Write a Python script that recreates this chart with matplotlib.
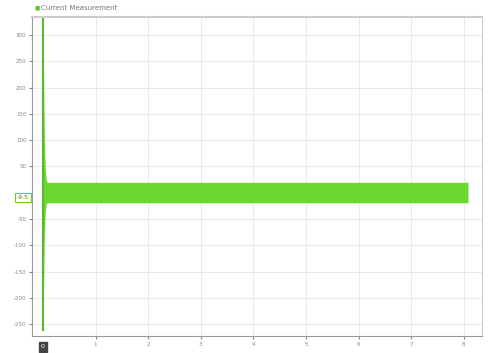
import numpy as np
import matplotlib.pyplot as plt

plt.rcParams['axes.unicode_minus'] = False

t_env = [0.0, 0.005, 0.012, 0.02, 0.03, 0.045, 0.06, 0.08, 8.08]
upper = [335, 300, 230, 150, 90, 45, 25, 20, 20]
lower = [-260, -240, -180, -120, -70, -35, -22, -19, -19]

y_ticks = [300, 250, 200, 150, 100, 50, -50, -100, -150, -200, -250]
x_ticks = [1, 2, 3, 4, 5, 6, 7, 8]

fig = plt.figure(figsize=(4.91, 3.53), dpi=100)
ax = fig.add_axes([0.065, 0.048, 0.917, 0.904])

ax.fill_between(t_env, lower, upper, color='#6ad830', linewidth=0)
ax.plot([0.0, 0.0], [lower[0], upper[0]], color='#5cb82e', linewidth=1.5)

ax.set_xlim(-0.21, 8.35)
ax.set_ylim(-272, 334)
ax.set_xticks(x_ticks)
ax.set_yticks(y_ticks)
ax.tick_params(labelsize=4, colors='#888888', length=2, pad=2)
ax.grid(True, color='#e6e6e6', linewidth=0.6)
ax.set_axisbelow(True)
for s in ax.spines.values():
    s.set_color('#cccccc')
ax.spines['left'].set_color('#999999')
ax.spines['bottom'].set_color('#999999')
ax.spines['top'].set_linewidth(1.5)

# legend
fig.text(0.071, 0.977, '\u25a0', color='#5cc22e', fontsize=4, va='center')
fig.text(0.083, 0.977, 'Current Measurement', color='#777777', fontsize=5, va='center')

# cursor readouts
ax.text(-0.26, -9.5, '-9.5', transform=ax.transData, ha='right', va='center', fontsize=4.5,
        color='#666666', bbox=dict(boxstyle='square,pad=0.3', fc='white', ec='#66cc33', lw=0.8),
        clip_on=False)
ax.text(0.0, -0.025, '0', transform=ax.get_xaxis_transform(), ha='center', va='top', fontsize=4.5,
        color='white', bbox=dict(boxstyle='square,pad=0.4', fc='#444444', ec='#444444'),
        clip_on=False)

fig.savefig('out.png', dpi=100)
